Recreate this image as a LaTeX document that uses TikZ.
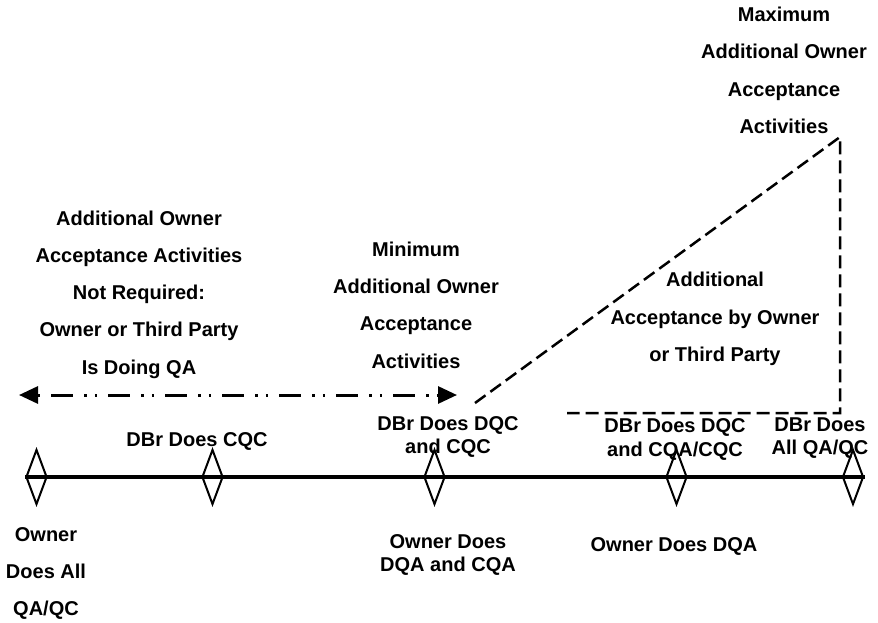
\documentclass[tikz,border=0pt]{standalone}
\usepackage{fontspec}
\setmainfont{Liberation Sans}
\usetikzlibrary{shapes.geometric,arrows.meta}

\begin{document}
\begin{tikzpicture}[x=1pt,y=-1pt,
  milestone/.style={draw,diamond,minimum width=21pt,minimum height=55pt,inner sep=0pt,line width=2pt},
  timeline/.style={line width=3.5pt},
  scopearrow/.style={line width=3pt,dash pattern=on 22pt off 11pt on 2.5pt off 8pt on 2.5pt off 11pt,dash phase=43pt,
    {Triangle[length=19pt,width=17pt]}-{Triangle[length=19pt,width=17pt]}},
  boundary/.style={line width=2.5pt,dash pattern=on 13pt off 6pt},
  bigtext/.style={align=center,inner sep=0pt,font=\bfseries\fontsize{20}{37.3}\selectfont},
  smalltext/.style={align=center,inner sep=0pt,font=\bfseries\fontsize{20}{23.5}\selectfont}]

  % page frame
  \useasboundingbox (0,0) rectangle (878,623);

  % milestones along the delivery timeline
  \node[milestone] (d1) at (36.5,477) {};
  \node[milestone] (d2) at (212.5,477) {};
  \node[milestone] (d3) at (434.5,477) {};
  \node[milestone] (d4) at (676.5,477) {};
  \node[milestone] (d5) at (853,477) {};
  \draw[timeline] (d1.west) -- (d5.east);

  % range where no additional owner acceptance is needed
  \coordinate (aL) at (19,395);
  \coordinate (aR) at (457,395);
  \draw[scopearrow] (aL) -- (aR);

  % growing additional acceptance wedge
  \coordinate (w0) at (475,403);
  \coordinate (w1) at (840,137);
  \coordinate (w2) at (840,413);
  \coordinate (w3) at (567,413);
  \draw[boundary] (w0) -- (w1) -- (w2) -- (w3);

  % upper labels
  \node[bigtext] (notreq) at (139,294.5) {Additional Owner\\Acceptance Activities\\Not Required:\\Owner or Third Party\\Is Doing QA};
  \node[bigtext] (minact) at (416,305) {Minimum\\Additional Owner\\Acceptance\\Activities};
  \node[bigtext] (maxact) at (784,70.5) {Maximum\\Additional Owner\\Acceptance\\Activities};
  \node[bigtext] (addacc) at (715,319) {Additional\\Acceptance by Owner\\or Third Party};

  % design-builder roles
  \node[smalltext] (dbr2) at (197,441) {DBr Does CQC};
  \node[smalltext] (dbr3) at (448,437) {DBr Does DQC\\and CQC};
  \node[smalltext] (dbr4) at (675,439.5) {DBr Does DQC\\and CQA/CQC};
  \node[smalltext] (dbr5) at (820,438) {DBr Does\\All QA/QC};

  % owner roles
  \node[bigtext] (own1) at (46,573.5) {Owner\\Does All\\QA/QC};
  \node[smalltext] (own3) at (448,555) {Owner Does\\DQA and CQA};
  \node[smalltext] (own4) at (674,546) {Owner Does DQA};
\end{tikzpicture}
\end{document}
